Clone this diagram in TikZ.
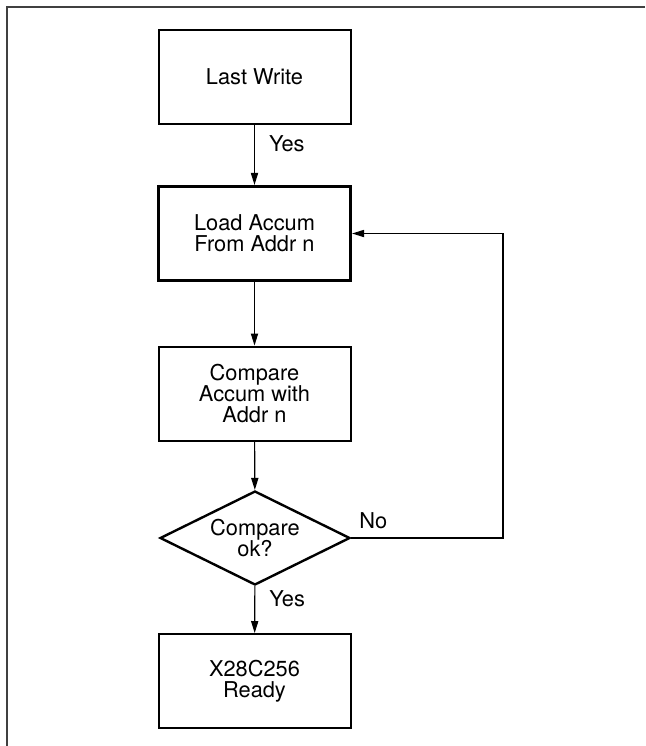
\documentclass[tikz,border=0pt]{standalone}
\usepackage{fontspec}
\setmainfont{TeX Gyre Heros}
\usetikzlibrary{shapes.geometric,arrows.meta}
\begin{document}
\begin{tikzpicture}[x=0.5pt,y=-0.5pt,
    font=\fontsize{10.9}{10.6}\selectfont,
    box/.style={draw,line width=1pt,minimum width=96pt,minimum height=47pt,inner sep=0pt,align=center},
    heavy/.style={line width=1.6pt},
    test/.style={draw,diamond,line width=1.2pt,aspect=2,minimum width=95pt,minimum height=47pt,inner sep=0pt,align=center},
    flow/.style={line width=0.55pt,-{Triangle[length=6pt,width=3.6pt]}},
    lbl/.style={anchor=west,inner sep=0pt,xshift=7pt,yshift=5.6pt}]
  \useasboundingbox (0,0) rectangle (645,746);
  % frame
  \draw[black!75,line width=0.9pt] (645,7) -- (7,7) -- (7,746);
  % nodes
  \node[box] (last) at (254.5,76.5) {Last Write};
  \node[box,heavy] (load) at (254.5,233.5) {Load Accum\\From Addr n};
  \node[box] (cmp) at (254.5,393.5) {Compare\\Accum with\\Addr n};
  \node[test] (ok) at (255,538) {Compare\\ok?};
  \node[box] (ready) at (254.5,681) {X28C256\\Ready};
  \coordinate (loop) at (503,538);
  % lines
  \draw[flow] (last) -- node[lbl] {Yes} (load);
  \draw[flow] (load) -- (cmp);
  \draw[flow] (cmp) -- (ok);
  \draw[flow] (ok) -- node[lbl] {Yes} (ready);
  \draw[flow] (ok.east) -- node[anchor=base west,inner sep=0pt,pos=0.05,yshift=5pt] {No} (loop) |- (load.east);
\end{tikzpicture}
\end{document}
